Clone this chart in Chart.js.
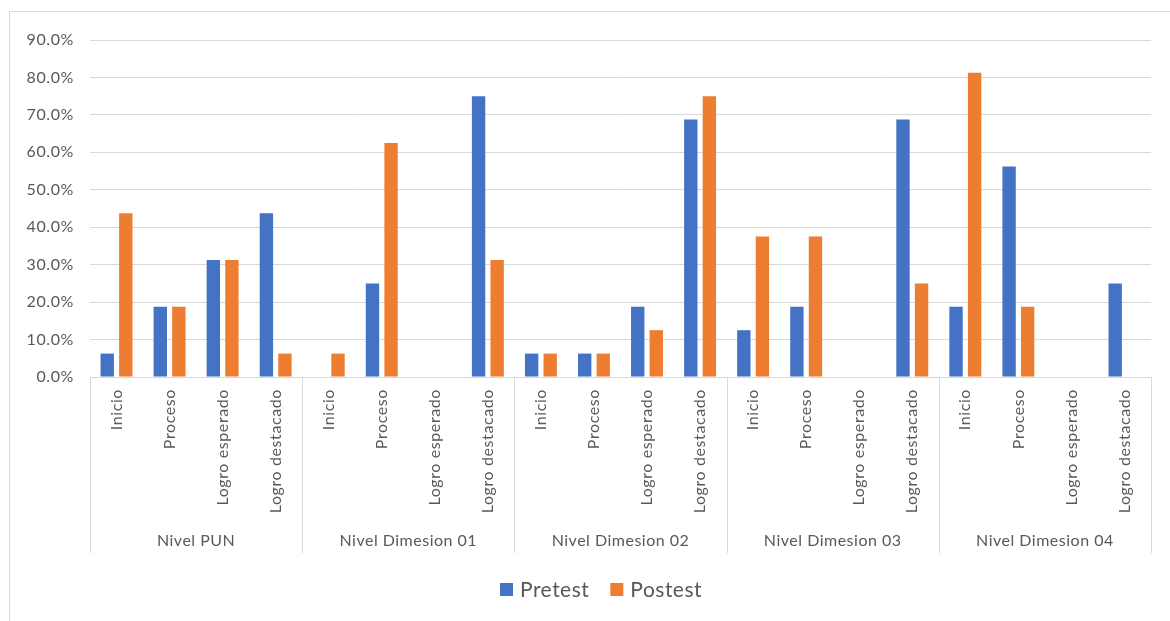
<!DOCTYPE html>
<html>
<head>
<meta charset="utf-8">
<script src="https://cdn.jsdelivr.net/npm/chart.js@4/dist/chart.umd.min.js"></script>
<style>
  html, body { margin: 0; padding: 0; background: #ffffff; }
  #wrap { width: 1170px; height: 621px; }
</style>
</head>
<body>
<div id="wrap"><canvas id="c" width="1170" height="621"></canvas></div>
<script>
// Levels of achievement, repeated for each group
const levels = ['Inicio', 'Proceso', 'Logro esperado', 'Logro destacado'];
const groups = ['Nivel PUN', 'Nivel Dimesion 01', 'Nivel Dimesion 02', 'Nivel Dimesion 03', 'Nivel Dimesion 04'];

// Percentages of students per level (%)
const pretest  = [6.25, 18.75, 31.25, 43.75,   0, 25, 0, 75,   6.25, 6.25, 18.75, 68.75,   12.5, 18.75, 0, 68.75,   18.75, 56.25, 0, 25];
const postest  = [43.75, 18.75, 31.25, 6.25,   6.25, 62.5, 0, 31.25,   6.25, 6.25, 12.5, 75,   37.5, 37.5, 0, 25,   81.25, 18.75, 0, 0];

const yTicks = { min: 0, max: 90, step: 10 };

const categories = [];
groups.forEach(g => levels.forEach(l => categories.push(l)));

const FONT = 'Lato, "Open Sans", sans-serif';
const TEXT = '#595959';
const LINE = '#d9d9d9';

const decorations = {
  id: 'decorations',
  beforeDraw(chart) {
    const ctx = chart.ctx;
    ctx.letterSpacing = '0.6px';
    ctx.save();
    ctx.strokeStyle = LINE;
    ctx.lineWidth = 1;
    ctx.strokeRect(9.5, 11.5, 1300, 800);
    ctx.restore();
  },
  afterDraw(chart) {
    const ctx = chart.ctx;
    const x = chart.scales.x;
    const area = chart.chartArea;
    const n = levels.length;
    const step = x.getPixelForValue(1) - x.getPixelForValue(0);
    ctx.save();
    // category labels, rotated
    ctx.fillStyle = TEXT;
    ctx.letterSpacing = '0.6px';
    ctx.font = '16px ' + FONT;
    ctx.textAlign = 'right';
    ctx.textBaseline = 'middle';
    categories.forEach((lab, i) => {
      const px = x.getPixelForValue(i);
      ctx.save();
      ctx.translate(px, area.bottom + 12);
      ctx.rotate(-Math.PI / 2);
      ctx.fillText(lab, 0, 0);
      ctx.restore();
    });
    // group separators and names
    ctx.strokeStyle = LINE;
    ctx.lineWidth = 1;
    for (let g = 0; g <= groups.length; g++) {
      const bx = Math.round(x.getPixelForValue(g * n) - step / 2) + 0.5;
      ctx.beginPath();
      ctx.moveTo(bx, area.bottom);
      ctx.lineTo(bx, area.bottom + 176);
      ctx.stroke();
    }
    ctx.textAlign = 'center';
    ctx.letterSpacing = '0.5px';
    ctx.font = '16px ' + FONT;
    groups.forEach((g, gi) => {
      const cx = (x.getPixelForValue(gi * n) + x.getPixelForValue(gi * n + n - 1)) / 2;
      ctx.fillText(g, cx, area.bottom + 164);
    });
    // legend
    ctx.font = '21px ' + FONT;
    ctx.textAlign = 'left';
    const items = chart.data.datasets;
    let lx = 500;
    const ly = 590;
    items.forEach(ds => {
      ctx.fillStyle = ds.backgroundColor;
      ctx.fillRect(lx, ly - 7, 13, 13);
      ctx.fillStyle = TEXT;
      ctx.fillText(ds.label, lx + 20, ly);
      lx += 20 + ctx.measureText(ds.label).width + 21;
    });
    ctx.restore();
  }
};

new Chart(document.getElementById('c'), {
  type: 'bar',
  data: {
    labels: categories,
    datasets: [
      { label: 'Pretest', data: pretest, backgroundColor: '#4472C4' },
      { label: 'Postest', data: postest, backgroundColor: '#ED7D31' }
    ]
  },
  options: {
    responsive: false,
    animation: false,
    layout: { padding: { left: 0, right: 19, top: 40, bottom: 244 } },
    datasets: { bar: { categoryPercentage: 0.7, barPercentage: 0.72 } },
    plugins: { legend: { display: false }, tooltip: { enabled: false } },
    scales: {
      x: { display: false },
      y: {
        min: yTicks.min, max: yTicks.max,
        ticks: {
          stepSize: yTicks.step,
          padding: 16,
          color: TEXT,
          font: { family: FONT, size: 16 },
          callback: v => v.toFixed(1) + '%'
        },
        grid: { color: LINE, lineWidth: 1, drawTicks: false },
        border: { display: false },
        afterFit(scale) { scale.width = 90; }
      }
    }
  },
  plugins: [decorations]
});
</script>
</body>
</html>
